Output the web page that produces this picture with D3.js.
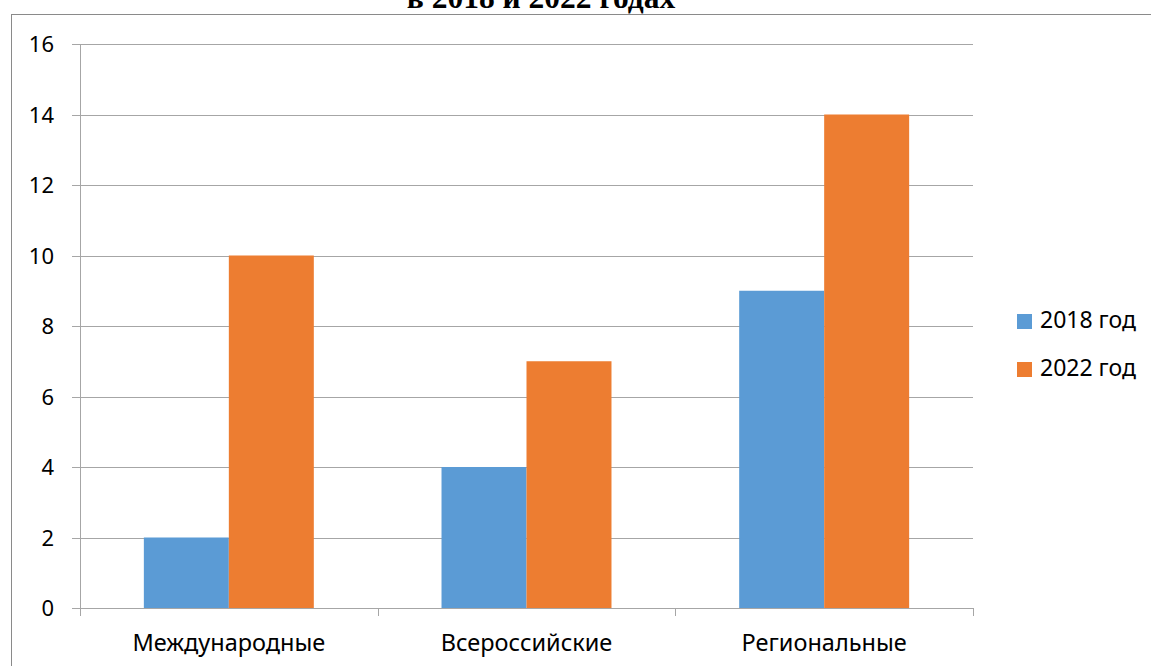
<!DOCTYPE html>
<html><head><meta charset="utf-8">
<script src="https://cdn.jsdelivr.net/npm/d3@7/dist/d3.min.js"></script>
<style>html,body{margin:0;padding:0;background:#fff;overflow:hidden}</style>
</head><body>
<svg id="c" width="1151" height="666"></svg>
<script>
const categories = ["Международные", "Всероссийские", "Региональные"];
const seriesNames = ["2018 год", "2022 год"];
const values2018 = [2, 4, 9];
const values2022 = [10, 7, 14];
const yTicks = [0, 2, 4, 6, 8, 10, 12, 14, 16];
const titleText = "в 2018 и 2022 годах";

const colors = ["#5B9BD5", "#ED7D31"];
const svg = d3.select("#c");
const font = "'Noto Sans', sans-serif";
const gridColor = "#a6a6a6";

// frame
svg.append("rect").attr("x", 11.5).attr("y", 14.5).attr("width", 1200).attr("height", 700)
  .attr("fill", "none").attr("stroke", "#8a8a8a").attr("stroke-width", 1);

// title (clipped at top, as in the reference)
svg.append("text").attr("x", 541).attr("y", 8).attr("text-anchor", "middle")
  .attr("font-family", "'Liberation Serif', serif").attr("font-weight", "bold")
  .attr("font-size", 31.5).attr("fill", "#000").text(titleText);

const x0 = d3.scaleBand().domain(categories).range([80, 973]).paddingInner(0).paddingOuter(0);
const groupW = x0.step() * 0.571;
const x1 = d3.scaleBand().domain(seriesNames).range([0, groupW]);
const y = d3.scaleLinear().domain([0, 16]).range([608, 44]);

// gridlines
svg.append("g").selectAll("line").data(yTicks).join("line")
  .attr("x1", 72).attr("x2", 973)
  .attr("y1", d => Math.round(y(d)) + 0.5).attr("y2", d => Math.round(y(d)) + 0.5)
  .attr("stroke", gridColor).attr("stroke-width", 1);

// y axis
svg.append("line").attr("x1", 80.5).attr("x2", 80.5).attr("y1", y(16)).attr("y2", y(0))
  .attr("stroke", gridColor);
svg.append("g").selectAll("text").data(yTicks).join("text")
  .attr("x", 54).attr("y", d => y(d) + 8).attr("text-anchor", "end")
  .attr("font-family", font).attr("font-size", 22).attr("fill", "#000").text(d => d);

// bars
const data = categories.map((c, i) => ({ c, vals: [values2018[i], values2022[i]] }));
const g = svg.append("g");
data.forEach(d => {
  const gx = x0(d.c) + (x0.step() - groupW) / 2;
  d.vals.forEach((v, j) => {
    g.append("rect").attr("x", gx + x1(seriesNames[j])).attr("width", x1.bandwidth())
      .attr("y", y(v)).attr("height", y(0) - y(v)).attr("fill", colors[j]);
  });
});

// x axis
svg.append("line").attr("x1", 80).attr("x2", 973.5).attr("y1", 608.5).attr("y2", 608.5).attr("stroke", gridColor);
const bounds = [80, ...categories.map(c => x0(c) + x0.step())];
svg.append("g").selectAll("line").data(bounds).join("line")
  .attr("x1", d => Math.round(d) + 0.5).attr("x2", d => Math.round(d) + 0.5)
  .attr("y1", 608).attr("y2", 616).attr("stroke", gridColor);
svg.append("g").selectAll("text").data(categories).join("text")
  .attr("x", d => x0(d) + x0.step() / 2).attr("y", 651).attr("text-anchor", "middle")
  .attr("font-family", font).attr("font-size", 23.5).attr("fill", "#000").text(d => d);

// legend
const lg = svg.append("g");
seriesNames.forEach((s, i) => {
  const yy = 314 + i * 48;
  lg.append("rect").attr("x", 1017).attr("y", yy).attr("width", 15).attr("height", 15).attr("fill", colors[i]);
  lg.append("text").attr("x", 1040).attr("y", yy + 14).attr("font-family", font)
    .attr("font-size", 23).attr("fill", "#000").text(s);
});
</script>
</body></html>
